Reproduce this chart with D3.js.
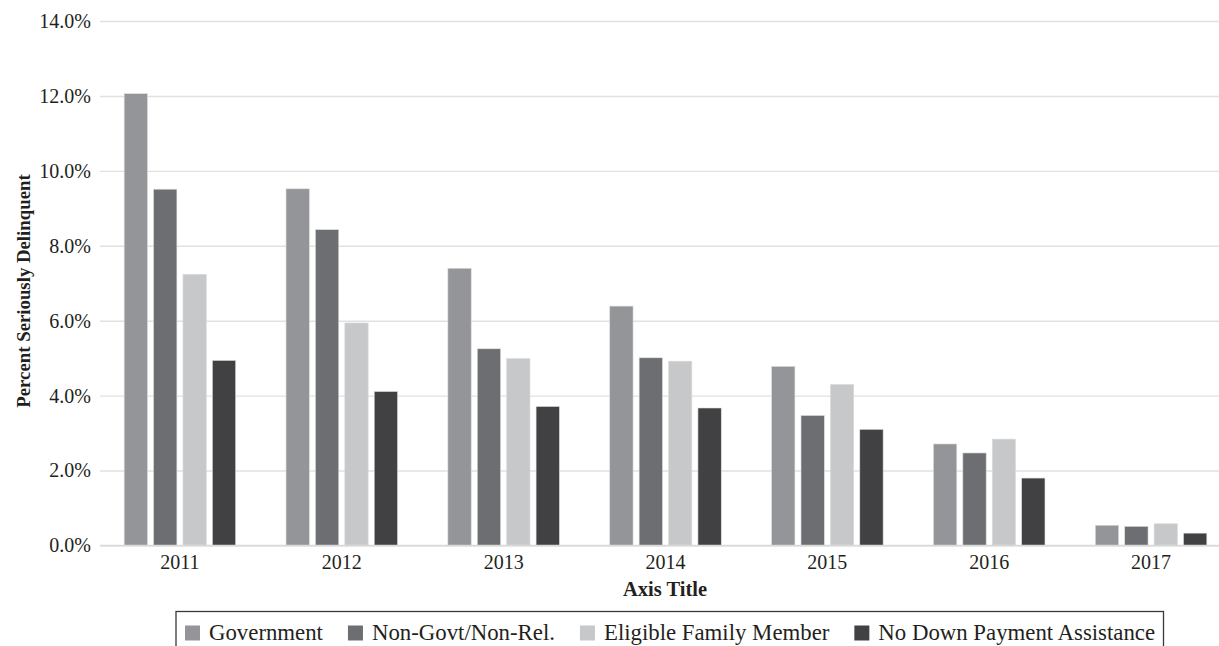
<!DOCTYPE html>
<html>
<head>
<meta charset="utf-8">
<script src="https://cdn.jsdelivr.net/npm/d3@7"></script>
<style>
  html, body { margin: 0; padding: 0; background: #fff; }
  svg { display: block; }
  text { font-family: "Liberation Serif", "Times New Roman", serif; fill: #231f20; }
</style>
</head>
<body>
<svg id="chart" width="1219" height="646"></svg>
<script>
// Share of loans seriously delinquent, by origination year and down payment assistance source
const years = ["2011", "2012", "2013", "2014", "2015", "2016", "2017"];
const seriesNames = ["Government", "Non-Govt/Non-Rel.", "Eligible Family Member", "No Down Payment Assistance"];
const government    = [12.06, 9.52, 7.40, 6.39, 4.78, 2.71, 0.54];
const nonGovt       = [9.51, 8.43, 5.25, 5.01, 3.47, 2.47, 0.51];
const familyMember  = [7.24, 5.94, 4.99, 4.92, 4.30, 2.84, 0.58];
const noAssistance  = [4.94, 4.11, 3.71, 3.67, 3.10, 1.80, 0.33];
const yTicks = [0, 2, 4, 6, 8, 10, 12, 14];
const colors = ["#939598", "#6d6e71", "#c7c8ca", "#414042"];

const seriesValues = [government, nonGovt, familyMember, noAssistance];
const rows = years.map((yr, i) => ({
  year: yr,
  values: seriesNames.map((s, k) => ({ key: s, value: seriesValues[k][i] / 100 }))
}));

const svg = d3.select("#chart");
const plotLeft = 99, plotRight = 1232, plotTop = 21, plotBottom = 545.5;

const x0 = d3.scaleBand().domain(years).range([plotLeft, plotRight]).padding(0);
const x1 = d3.scaleBand().domain(seriesNames).range([0, x0.bandwidth()])
  .paddingInner(0.207).paddingOuter(0.856);
const y = d3.scaleLinear().domain([0, 0.14]).range([plotBottom, plotTop]);

// Horizontal gridlines and percentage labels
const yAxis = d3.axisLeft(y)
  .tickValues(yTicks.map(v => v / 100))
  .tickFormat(d3.format(".1%"))
  .tickSize(-(plotRight - plotLeft - 1))
  .tickPadding(9);
const gy = svg.append("g").attr("transform", `translate(${plotLeft + 1},0)`).call(yAxis);
gy.select(".domain").remove();
gy.selectAll(".tick line").attr("stroke", "#e1e1e1").attr("stroke-width", 1.4);
gy.selectAll(".tick text")
  .attr("font-size", "20px")
  .attr("font-family", "Liberation Serif, Times New Roman, serif")
  .attr("fill", "#231f20");

// Bars
const groups = svg.append("g").selectAll("g")
  .data(rows)
  .join("g")
  .attr("transform", d => `translate(${x0(d.year)},0)`);

groups.selectAll("rect")
  .data(d => d.values)
  .join("rect")
  .attr("x", d => x1(d.key))
  .attr("y", d => y(d.value))
  .attr("width", x1.bandwidth())
  .attr("height", d => y(0) - y(d.value))
  .attr("fill", (d, i) => colors[i])
  .attr("stroke", "#dcdcdc")
  .attr("stroke-width", 0.6);

// Category axis
const xAxis = d3.axisBottom(x0).tickSize(0).tickPadding(9);
const gx = svg.append("g").attr("transform", `translate(0,${plotBottom})`).call(xAxis);
gx.select(".domain").attr("stroke", "#d9d9d9").attr("stroke-width", 1.4)
  .attr("d", `M${plotLeft + 1},0H${plotRight}`);
gx.selectAll(".tick text")
  .attr("font-size", "20px")
  .attr("font-family", "Liberation Serif, Times New Roman, serif")
  .attr("fill", "#231f20");

// Axis titles
svg.append("text")
  .attr("x", 665).attr("y", 596)
  .attr("text-anchor", "middle")
  .attr("font-size", "20.5px")
  .attr("font-weight", "bold")
  .text("Axis Title");

svg.append("text")
  .attr("transform", "translate(30,291) rotate(-90)")
  .attr("text-anchor", "middle")
  .attr("font-size", "18.8px")
  .attr("font-weight", "bold")
  .text("Percent Seriously Delinquent");

// Legend
const legend = svg.append("g");
legend.append("rect")
  .attr("x", 176).attr("y", 611.5)
  .attr("width", 1163.5 - 176).attr("height", 60)
  .attr("fill", "#fff").attr("stroke", "#3a3a3a").attr("stroke-width", 1.3);

let lx = 185;
seriesNames.forEach((name, i) => {
  const item = legend.append("g");
  item.append("rect")
    .attr("x", lx).attr("y", 625.5)
    .attr("width", 15).attr("height", 15)
    .attr("fill", colors[i]);
  const t = item.append("text")
    .attr("x", lx + 24).attr("y", 640)
    .attr("font-size", "22.8px")
    .text(name);
  lx += 24 + t.node().getComputedTextLength() + 25;
});
</script>
</body>
</html>
